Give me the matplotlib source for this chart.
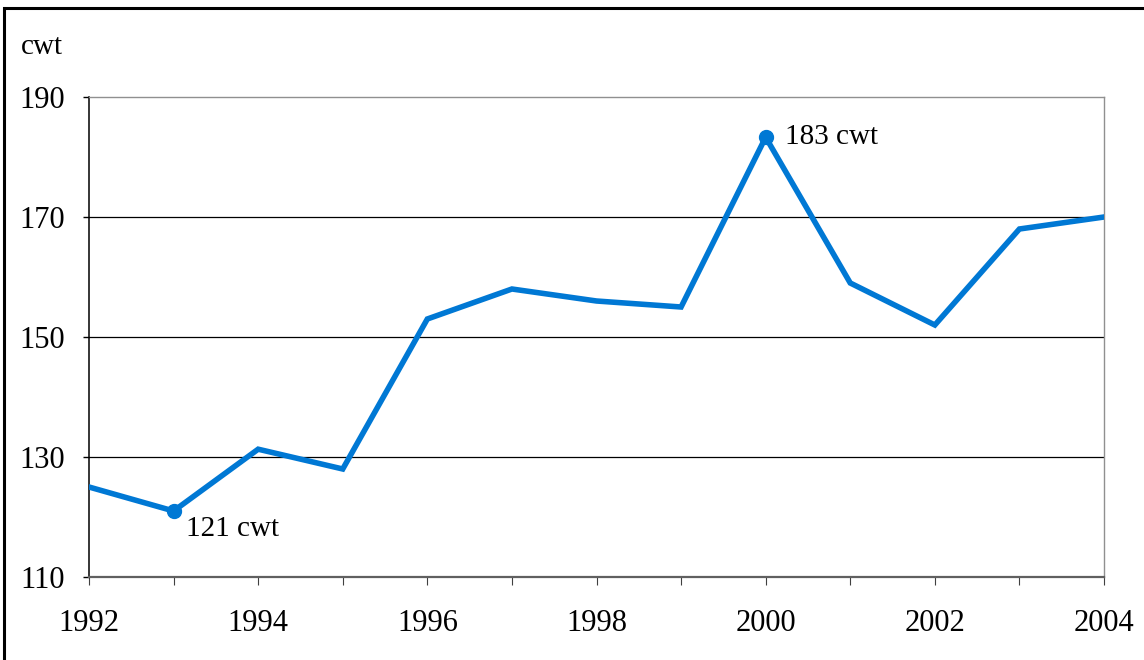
import matplotlib.pyplot as plt
from matplotlib.patches import Rectangle

# yield per year (cwt)
years = [1992, 1993, 1994, 1995, 1996, 1997, 1998, 1999, 2000, 2001, 2002, 2003, 2004]
yields = [125, 121, 131.3, 128, 153, 158, 156, 155, 183.3, 159, 152, 168, 170]
marked_years = [1993, 2000]
marked_labels = ['121 cwt', '183 cwt']
y_ticks = [110, 130, 150, 170, 190]
x_label_years = [1992, 1994, 1996, 1998, 2000, 2002, 2004]

blue = '#0078d4'
plt.rcParams['font.family'] = ['Liberation Serif', 'DejaVu Serif']

fig = plt.figure(figsize=(11.44, 6.6), dpi=100)
ax = fig.add_axes([89 / 1144, 1 - 577 / 660, (1104 - 89) / 1144, (577 - 97) / 660])

ax.plot(years, yields, color=blue, linewidth=4.0, solid_joinstyle='miter', zorder=3)

# marked points with their labels
for yr, lab in zip(marked_years, marked_labels):
    v = yields[years.index(yr)]
    ax.plot([yr], [v], 'o', color=blue, markersize=10, zorder=4)
    if yr == 1993:
        ax.annotate(lab, (yr, v), xytext=(9, -13), textcoords='offset points',
                    ha='left', va='center', fontsize=21)
    else:
        ax.annotate(lab, (yr, v), xytext=(14, 0), textcoords='offset points',
                    ha='left', va='center', fontsize=21)

ax.set_xlim(1992, 2004)
ax.set_ylim(110, 190)
ax.set_yticks(y_ticks)
ax.set_xticks(years)
ax.set_xticklabels([str(y) if y in x_label_years else '' for y in years])
ax.tick_params(axis='y', length=4.5, width=1, pad=13, labelsize=22, direction='out')
ax.tick_params(axis='x', length=6, width=0.8, pad=17, labelsize=22, direction='out', color='#404040')

for v in y_ticks[1:-1]:
    ax.axhline(v, color='black', linewidth=0.9, zorder=1)

ax.spines['left'].set_color('black')
ax.spines['left'].set_linewidth(1.1)
ax.spines['bottom'].set_color('#606060')
ax.spines['bottom'].set_linewidth(1.6)
ax.spines['top'].set_color('#909090')
ax.spines['right'].set_color('#909090')
ax.spines['top'].set_linewidth(1)
ax.spines['right'].set_linewidth(1)

fig.text(21 / 1144, 1 - 47 / 660, 'cwt', fontsize=21, ha='left', va='center')

# outer frame around the figure
fig.patches.append(Rectangle((4 / 1144, -0.1), 1.2, 1.1 - 7.5 / 660, transform=fig.transFigure,
                             fill=False, edgecolor='black', linewidth=2.2))

fig.savefig('out.png', dpi=100)
